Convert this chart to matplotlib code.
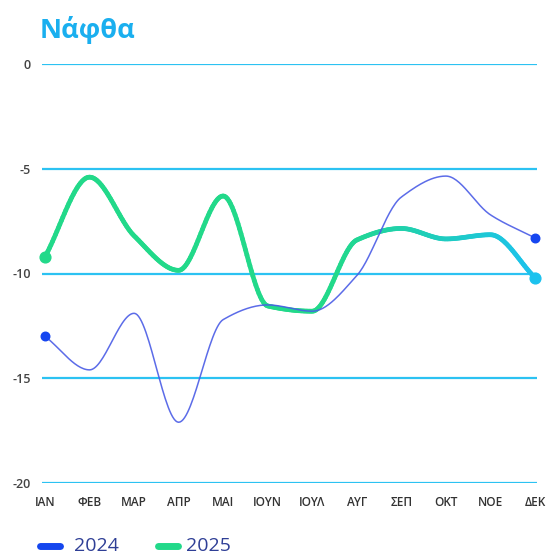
import numpy as np
import matplotlib.pyplot as plt
from matplotlib.collections import LineCollection
from matplotlib.colors import to_rgb
from matplotlib.lines import Line2D

months = ['ΙΑΝ', 'ΦΕΒ', 'ΜΑΡ', 'ΑΠΡ', 'ΜΑΙ', 'ΙΟΥΝ', 'ΙΟΥΛ', 'ΑΥΓ', 'ΣΕΠ', 'ΟΚΤ', 'ΝΟΕ', 'ΔΕΚ']
y2024 = [-13.0, -14.6, -11.9, -17.1, -12.2, -11.5, -11.8, -10.1, -6.35, -5.35, -7.2, -8.3]
y2025 = [-9.2, -5.4, -8.2, -9.85, -6.3, -11.55, -11.8, -8.4, -7.85, -8.35, -8.15, -10.2]
yticks = [0, -5, -10, -15, -20]
title = 'Νάφθα'

plt.rcParams['font.family'] = ['Open Sans', 'DejaVu Sans']


# monotone cubic (like d3 curveMonotoneX) just for drawing the line
def monotone(xs, ys, n=30):
    xs = np.asarray(xs, float)
    ys = np.asarray(ys, float)
    h = np.diff(xs)
    d = np.diff(ys) / h
    m = np.zeros_like(ys)
    for i in range(1, len(ys) - 1):
        if d[i - 1] * d[i] <= 0:
            m[i] = 0
        else:
            m[i] = (3 * (h[i - 1] + h[i])) / ((2 * h[i] + h[i - 1]) / d[i - 1] + (h[i] + 2 * h[i - 1]) / d[i])
    m[0] = d[0]
    m[-1] = d[-1]
    px, py = [], []
    for i in range(len(xs) - 1):
        t = np.linspace(0, 1, n, endpoint=False)
        h00 = 2 * t**3 - 3 * t**2 + 1
        h10 = t**3 - 2 * t**2 + t
        h01 = -2 * t**3 + 3 * t**2
        h11 = t**3 - t**2
        px.extend(xs[i] + t * h[i])
        py.extend(h00 * ys[i] + h10 * h[i] * m[i] + h01 * ys[i + 1] + h11 * h[i] * m[i + 1])
    px.append(xs[-1])
    py.append(ys[-1])
    return np.array(px), np.array(py)


x = np.arange(len(months))

fig = plt.figure(figsize=(5.58, 5.55), dpi=100)
ax = fig.add_axes([42 / 558, 1 - 483 / 555, 495 / 558, 419 / 555])
ax.set_xlim(-3 / 44.5, 11 + 2 / 44.5)
ax.set_ylim(-20, 0)

grid_col = '#2cc2f2'
for v in yticks:
    ax.axhline(v, color=grid_col, lw=1.6, zorder=1)

# 2024
bx, by = monotone(x, y2024)
ax.plot(bx, by, color='#4a5ce6', lw=1.1, alpha=0.9, zorder=3)
ax.scatter([x[0], x[-1]], [y2024[0], y2024[-1]], s=38, color='#1646f0', zorder=4, clip_on=False)

# 2025 with green -> cyan gradient
gx, gy = monotone(x, y2025)
pts = np.column_stack([gx, gy]).reshape(-1, 1, 2)
segs = np.concatenate([pts[:-1], pts[1:]], axis=1)
c1 = np.array(to_rgb('#22d98a'))
c2 = np.array(to_rgb('#1cc2ee'))
mid = (gx[:-1] + gx[1:]) / 2
f = np.clip((mid - 6.5) / 4.5, 0, 1)[:, None]
cols = c1 * (1 - f) + c2 * f
lc = LineCollection(segs, colors=cols, linewidths=3.4, capstyle='round', joinstyle='round', zorder=2)
ax.add_collection(lc)
ax.scatter([x[0]], [y2025[0]], s=60, color='#22d98a', zorder=4, clip_on=False)
ax.scatter([x[-1]], [y2025[-1]], s=60, color='#1cc2ee', zorder=4, clip_on=False)

for s in ax.spines.values():
    s.set_visible(False)
ax.set_yticks(yticks)
ax.set_yticklabels([str(v) for v in yticks], fontsize=9, color='#444444', fontweight='semibold')
ax.set_xticks(x)
ax.set_xticklabels(months, fontsize=8.5, color='#333333', fontweight='semibold')
ax.tick_params(axis='both', length=0)
ax.tick_params(axis='x', pad=9)
ax.tick_params(axis='y', pad=8)

fig.text(40 / 558, 1 - 30 / 555, title, fontsize=19.5, fontweight='bold', color='#1aafef', va='center', ha='left')

# legend
ly = 1 - 546 / 555
fig.add_artist(Line2D([40 / 558, 60 / 558], [ly, ly], color='#1546ee', lw=5, solid_capstyle='round'))
fig.text(74 / 558, ly, '2024', fontsize=14, color='#2f3f96', va='center', ha='left')
fig.add_artist(Line2D([158 / 558, 178 / 558], [ly, ly], color='#22d98a', lw=5, solid_capstyle='round'))
fig.text(186 / 558, ly, '2025', fontsize=14, color='#2f3f96', va='center', ha='left')

fig.savefig('out.png', dpi=100)
